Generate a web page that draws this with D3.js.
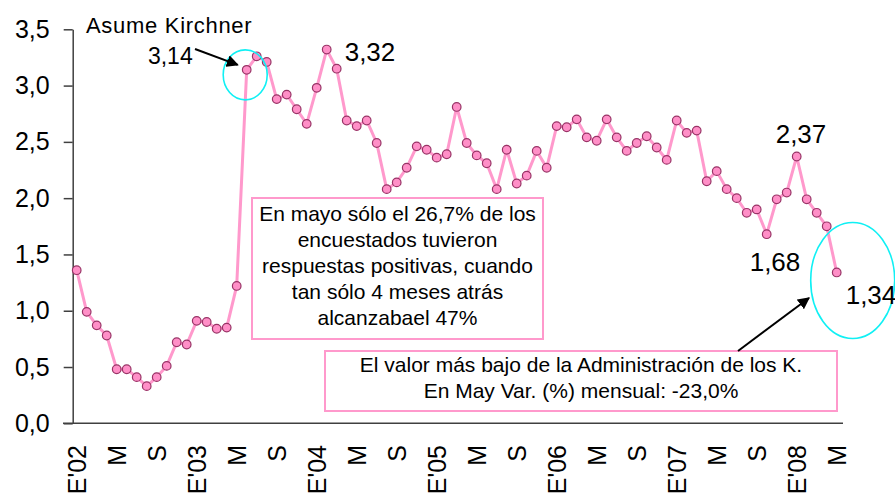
<!DOCTYPE html>
<html lang="es">
<head>
<meta charset="UTF-8">
<title>Indice de confianza en el gobierno</title>
<script src="https://d3js.org/d3.v7.min.js"></script>
<style>
    body{ margin:0; background:#fff; }
    svg text{ font-family: Arial, "Liberation Sans", sans-serif; fill:#000; }
    .axis path, .axis line{ stroke:#404040; stroke-width:1.5; }
    .serie{ fill:none; stroke:#ff99cc; stroke-width:3; }
    .punto{ fill:#ff8fc7; stroke:#993366; stroke-width:1.2; }
    .caja{ fill:#fff; stroke:#ff99cc; stroke-width:2; }
    .circulo{ fill:none; stroke:#10f0f4; stroke-width:1.6; }
    .flecha{ stroke:#000; stroke-width:2; }
</style>
</head>
<body>
<svg id="chart" width="895" height="496"></svg>
<script>
    // valores mensuales, enero 2002 a mayo 2008
    let valores = [
        1.36, 0.99, 0.87, 0.78, 0.48, 0.48, 0.41, 0.33, 0.41, 0.51, 0.72, 0.70,   // 2002
        0.91, 0.90, 0.84, 0.85, 1.22, 3.14, 3.26, 3.21, 2.88, 2.92, 2.79, 2.66,   // 2003
        2.98, 3.32, 3.15, 2.69, 2.64, 2.69, 2.49, 2.08, 2.14, 2.27, 2.46, 2.43,   // 2004
        2.36, 2.39, 2.81, 2.49, 2.38, 2.31, 2.08, 2.43, 2.13, 2.20, 2.42, 2.27,   // 2005
        2.64, 2.63, 2.70, 2.54, 2.51, 2.70, 2.54, 2.42, 2.49, 2.55, 2.45, 2.34,   // 2006
        2.69, 2.58, 2.60, 2.15, 2.24, 2.08, 2.00, 1.87, 1.90, 1.68, 1.99, 2.05,   // 2007
        2.37, 1.99, 1.87, 1.75, 1.34                                              // 2008
    ];
    // etiquetas del eje x, una cada 4 meses
    let etiquetasX = ["E'02","M","S","E'03","M","S","E'04","M","S","E'05",
                      "M","S","E'06","M","S","E'07","M","S","E'08","M"];
    let ticksY = [0, 0.5, 1, 1.5, 2, 2.5, 3, 3.5];

    // etiquetas de datos: indice del punto, texto, desplazamiento
    let etiquetas = [
        {i:17, txt:"3,14", dx:-54, dy:-6, size:23, anchor:"end"},
        {i:25, txt:"3,32", dx:18, dy:11, size:26, anchor:"start"},
        {i:72, txt:"2,37", dx:-21, dy:-14, size:26, anchor:"start"},
        {i:69, txt:"1,68", dx:-17, dy:37, size:26, anchor:"start"},
        {i:76, txt:"1,34", dx:9, dy:32, size:26, anchor:"start"}
    ];
    let texto1 = ["En mayo sólo el 26,7% de los", "encuestados tuvieron",
                  "respuestas positivas, cuando", "tan sólo 4 meses atrás", "alcanzabael 47%"];
    let texto2 = ["El valor más bajo de la Administración de los K.",
                  "En May Var. (%) mensual: -23,0%"];

    let svg = d3.select("#chart");
    let coma = d => d3.format(".1f")(d).replace(".", ",");

    let x = d3.scalePoint()
        .domain(d3.range(valores.length))
        .range([76.7, 836.7]);
    let y = d3.scaleLinear()
        .domain([0, 3.5])
        .range([423.3, 29.3]);

    // eje y
    let ejeY = svg.append("g")
        .attr("class", "axis")
        .attr("transform", "translate(72.7,0)")
        .call(d3.axisLeft(y).tickValues(ticksY).tickFormat(coma)
            .tickSize(9).tickSizeOuter(0).tickPadding(14));
    ejeY.selectAll("text").style("font-size", "25px");

    // eje x (solo linea, sin marcas)
    svg.append("line")
        .style("stroke", "#404040").style("stroke-width", 1.5)
        .attr("x1", 63).attr("x2", 843)
        .attr("y1", y(0)).attr("y2", y(0));

    svg.selectAll(".tickX")
        .data(etiquetasX)
        .join("text")
        .attr("class", "tickX")
        .attr("transform", (d, k) => "translate(" + x(k * 4) + ",445) rotate(-90)")
        .attr("text-anchor", "end")
        .attr("dy", "0.36em")
        .style("font-size", "25px")
        .text(d => d);

    // cajas de texto
    svg.append("rect").attr("class", "caja")
        .attr("x", 252).attr("y", 198).attr("width", 291).attr("height", 141);
    svg.selectAll(".t1")
        .data(texto1)
        .join("text")
        .attr("class", "t1")
        .attr("x", 397.5)
        .attr("y", (d, k) => 221 + k * 26)
        .attr("text-anchor", "middle")
        .style("font-size", "21px")
        .text(d => d);

    svg.append("rect").attr("class", "caja")
        .attr("x", 325).attr("y", 351).attr("width", 512).attr("height", 60);
    svg.selectAll(".t2")
        .data(texto2)
        .join("text")
        .attr("class", "t2")
        .attr("x", 581)
        .attr("y", (d, k) => 372 + k * 26)
        .attr("text-anchor", "middle")
        .style("font-size", "21px")
        .text(d => d);

    // linea y marcadores
    let linea = d3.line()
        .x((d, k) => x(k))
        .y(d => y(d));
    svg.append("path")
        .datum(valores)
        .attr("class", "serie")
        .attr("d", linea);
    svg.selectAll(".punto")
        .data(valores)
        .join("circle")
        .attr("class", "punto")
        .attr("cx", (d, k) => x(k))
        .attr("cy", d => y(d))
        .attr("r", 4.3);

    // circulos de resaltado
    svg.append("ellipse").attr("class", "circulo")
        .attr("cx", x(17) - 1.5).attr("cy", y(valores[17]) + 5)
        .attr("rx", 22).attr("ry", 25);
    svg.append("ellipse").attr("class", "circulo")
        .attr("cx", x(76) + 16).attr("cy", y(valores[76]) + 8)
        .attr("rx", 42).attr("ry", 58);

    // flechas
    svg.append("defs").append("marker")
        .attr("id", "punta")
        .attr("viewBox", "0 0 10 10")
        .attr("refX", 9).attr("refY", 5)
        .attr("markerWidth", 6).attr("markerHeight", 6)
        .attr("orient", "auto")
        .append("path")
        .attr("d", "M0,0 L10,5 L0,10 z")
        .attr("fill", "#000");
    svg.append("line").attr("class", "flecha")
        .attr("x1", 195).attr("y1", 49)
        .attr("x2", x(17) - 9).attr("y2", y(valores[17]) - 5)
        .attr("marker-end", "url(#punta)");
    svg.append("line").attr("class", "flecha")
        .attr("x1", 738).attr("y1", 351)
        .attr("x2", 809).attr("y2", 298)
        .attr("marker-end", "url(#punta)");

    // textos
    svg.append("text")
        .attr("x", 86).attr("y", 33)
        .style("font-size", "22px")
        .style("letter-spacing", "0.7px")
        .text("Asume Kirchner");

    svg.selectAll(".etq")
        .data(etiquetas)
        .join("text")
        .attr("class", "etq")
        .attr("x", d => x(d.i) + d.dx)
        .attr("y", d => y(valores[d.i]) + d.dy)
        .attr("text-anchor", d => d.anchor)
        .style("font-size", d => d.size + "px")
        .text(d => d.txt);
</script>
</body>
</html>
